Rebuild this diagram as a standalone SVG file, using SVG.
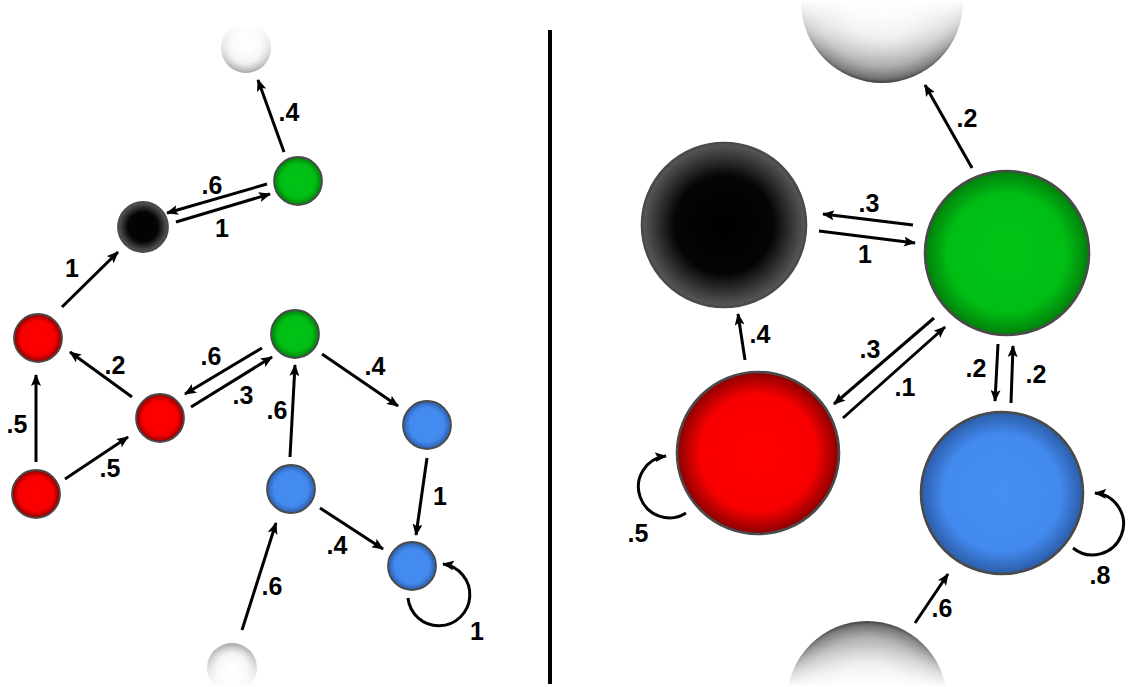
<svg xmlns="http://www.w3.org/2000/svg" width="1131" height="687" viewBox="0 0 1131 687">
  <defs>
    <style>
      .edge { fill: none; stroke: #000; stroke-width: 3; marker-end: url(#arrow); }
      .loop { fill: none; stroke: #000; stroke-width: 3; marker-end: url(#arrow); }
      .lbl { font-family: "Liberation Sans", Arial, sans-serif; font-weight: bold; font-size: 25px; fill: #000; text-anchor: middle; }
      .rim { stroke: #4a4a4a; stroke-width: 1.8; }
      .rimBig { stroke: #4a4a4a; stroke-width: 2.6; }
    </style>
    <marker id="arrow" viewBox="0 0 12 10" markerWidth="12" markerHeight="10" refX="11" refY="5" orient="auto" markerUnits="userSpaceOnUse">
      <path d="M0,0 L12,5 L0,10 L2.5,5 Z" fill="#000"/>
    </marker>
    <radialGradient id="gRed">
      <stop offset="0" stop-color="#ff0000"/>
      <stop offset="0.72" stop-color="#f80000"/>
      <stop offset="1" stop-color="#8a0000"/>
    </radialGradient>
    <radialGradient id="gGreen">
      <stop offset="0" stop-color="#00c416"/>
      <stop offset="0.72" stop-color="#00bd14"/>
      <stop offset="1" stop-color="#00800a"/>
    </radialGradient>
    <radialGradient id="gBlue">
      <stop offset="0" stop-color="#478ef2"/>
      <stop offset="0.72" stop-color="#438aef"/>
      <stop offset="1" stop-color="#2b5ca8"/>
    </radialGradient>
    <radialGradient id="gBlack">
      <stop offset="0" stop-color="#000"/>
      <stop offset="0.6" stop-color="#050505"/>
      <stop offset="1" stop-color="#5a5a5a"/>
    </radialGradient>
    <radialGradient id="gGhost">
      <stop offset="0" stop-color="#f4f4f4"/>
      <stop offset="0.45" stop-color="#d8d8d8"/>
      <stop offset="0.8" stop-color="#9a9a9a"/>
      <stop offset="0.95" stop-color="#666"/>
      <stop offset="1" stop-color="#3c3c3c"/>
    </radialGradient>
    <radialGradient id="gGhostSmall">
      <stop offset="0" stop-color="#ffffff"/>
      <stop offset="0.6" stop-color="#eeeeee"/>
      <stop offset="1" stop-color="#a4a4a4"/>
    </radialGradient>

    <!-- vertical fades for the partially shown end states -->
    <linearGradient id="fadeLT" gradientUnits="userSpaceOnUse" x1="0" y1="25" x2="0" y2="73">
      <stop offset="0" stop-color="#fff" stop-opacity="0"/>
      <stop offset="0.5" stop-color="#fff" stop-opacity="0.35"/>
      <stop offset="1" stop-color="#fff" stop-opacity="1"/>
    </linearGradient>
    <linearGradient id="fadeLB" gradientUnits="userSpaceOnUse" x1="0" y1="643" x2="0" y2="687">
      <stop offset="0" stop-color="#fff" stop-opacity="1"/>
      <stop offset="0.6" stop-color="#fff" stop-opacity="0.35"/>
      <stop offset="1" stop-color="#fff" stop-opacity="0"/>
    </linearGradient>
    <linearGradient id="fadeRT" gradientUnits="userSpaceOnUse" x1="0" y1="0" x2="0" y2="84">
      <stop offset="0" stop-color="#fff" stop-opacity="0"/>
      <stop offset="0.35" stop-color="#fff" stop-opacity="0.3"/>
      <stop offset="0.7" stop-color="#fff" stop-opacity="0.75"/>
      <stop offset="1" stop-color="#fff" stop-opacity="1"/>
    </linearGradient>
    <linearGradient id="fadeRB" gradientUnits="userSpaceOnUse" x1="0" y1="620" x2="0" y2="687">
      <stop offset="0" stop-color="#fff" stop-opacity="1"/>
      <stop offset="0.4" stop-color="#fff" stop-opacity="0.7"/>
      <stop offset="0.8" stop-color="#fff" stop-opacity="0.2"/>
      <stop offset="1" stop-color="#fff" stop-opacity="0"/>
    </linearGradient>
    <mask id="mLT" maskUnits="userSpaceOnUse" x="200" y="0" width="100" height="100">
      <rect x="200" y="0" width="100" height="100" fill="url(#fadeLT)"/>
    </mask>
    <mask id="mLB" maskUnits="userSpaceOnUse" x="190" y="620" width="100" height="67">
      <rect x="190" y="620" width="100" height="67" fill="url(#fadeLB)"/>
    </mask>
    <mask id="mRT" maskUnits="userSpaceOnUse" x="780" y="0" width="210" height="100">
      <rect x="780" y="0" width="210" height="100" fill="url(#fadeRT)"/>
    </mask>
    <mask id="mRB" maskUnits="userSpaceOnUse" x="770" y="600" width="200" height="87">
      <rect x="770" y="600" width="200" height="87" fill="url(#fadeRB)"/>
    </mask>
  </defs>

  <rect width="1131" height="687" fill="#fff"/>

  <!-- divider between the two chains -->
  <line x1="550" y1="30" x2="550" y2="684" stroke="#000" stroke-width="4"/>

  <!-- ===== left chain ===== -->
  <g id="left-nodes">
    <g id="L-ghost-top"><circle cx="246" cy="48" r="25" fill="url(#gGhostSmall)" mask="url(#mLT)"/></g>
    <g id="L-green-top"><circle cx="298" cy="181" r="24" fill="url(#gGreen)" class="rim"/></g>
    <g id="L-black"><circle cx="143" cy="227" r="25" fill="url(#gBlack)" class="rim"/></g>
    <g id="L-red-a"><circle cx="38" cy="338" r="24" fill="url(#gRed)" class="rim"/></g>
    <g id="L-red-b"><circle cx="160" cy="418" r="24" fill="url(#gRed)" class="rim"/></g>
    <g id="L-red-c"><circle cx="36" cy="494" r="24" fill="url(#gRed)" class="rim"/></g>
    <g id="L-green-mid"><circle cx="295" cy="334" r="24" fill="url(#gGreen)" class="rim"/></g>
    <g id="L-blue-a"><circle cx="291" cy="489" r="24" fill="url(#gBlue)" class="rim"/></g>
    <g id="L-blue-b"><circle cx="427" cy="425" r="24" fill="url(#gBlue)" class="rim"/></g>
    <g id="L-blue-c"><circle cx="412" cy="566" r="24" fill="url(#gBlue)" class="rim"/></g>
    <g id="L-ghost-bottom"><circle cx="232" cy="668" r="25" fill="url(#gGhostSmall)" mask="url(#mLB)"/></g>
  </g>

  <g id="left-connectors">
    <path class="edge" d="M284,152 L258,80"/>
    <path class="edge" d="M267,184 L167,213"/>
    <path class="edge" d="M176,222 L270,194"/>
    <path class="edge" d="M62,307 L118,252"/>
    <path class="edge" d="M36,462 L36,375"/>
    <path class="edge" d="M65,479 L128,437"/>
    <path class="edge" d="M132,397 L70,352"/>
    <path class="edge" d="M262,348 L185,394"/>
    <path class="edge" d="M191,407 L272,357"/>
    <path class="edge" d="M290,457 L295,365"/>
    <path class="edge" d="M322,354 L398,406"/>
    <path class="edge" d="M427,458 L416,535"/>
    <path class="edge" d="M320,508 L383,549"/>
    <path class="edge" d="M242,630 L276,523"/>
    <path class="loop" d="M408,598 A31,31 0 1 0 443,564"/>
  </g>

  <g id="left-labels">
    <text class="lbl" x="289" y="121">.4</text>
    <text class="lbl" x="212" y="194">.6</text>
    <text class="lbl" x="222" y="237">1</text>
    <text class="lbl" x="72" y="277">1</text>
    <text class="lbl" x="115" y="374">.2</text>
    <text class="lbl" x="211" y="365">.6</text>
    <text class="lbl" x="243" y="404">.3</text>
    <text class="lbl" x="17" y="433">.5</text>
    <text class="lbl" x="110" y="477">.5</text>
    <text class="lbl" x="277" y="419">.6</text>
    <text class="lbl" x="375" y="375">.4</text>
    <text class="lbl" x="440" y="505">1</text>
    <text class="lbl" x="337" y="554">.4</text>
    <text class="lbl" x="272" y="595">.6</text>
    <text class="lbl" x="477" y="640">1</text>
  </g>

  <!-- ===== right chain ===== -->
  <g id="right-nodes">
    <g id="R-ghost-top"><circle cx="882" cy="2" r="81" fill="url(#gGhost)" mask="url(#mRT)"/></g>
    <g id="R-black"><circle cx="724" cy="225" r="82" fill="url(#gBlack)" class="rimBig"/></g>
    <g id="R-green"><circle cx="1007" cy="253" r="82" fill="url(#gGreen)" class="rimBig"/></g>
    <g id="R-red"><circle cx="758" cy="453" r="81" fill="url(#gRed)" class="rimBig"/></g>
    <g id="R-blue"><circle cx="1002" cy="493" r="81" fill="url(#gBlue)" class="rimBig"/></g>
    <g id="R-ghost-bottom"><circle cx="867" cy="701" r="80" fill="url(#gGhost)" mask="url(#mRB)"/></g>
  </g>

  <g id="right-connectors">
    <path class="edge" d="M972,168 L925,85"/>
    <path class="edge" d="M913,225 L823,214"/>
    <path class="edge" d="M819,231 L915,243"/>
    <path class="edge" d="M745,360 L738,314"/>
    <path class="edge" d="M934,318 L834,404"/>
    <path class="edge" d="M843,418 L945,327"/>
    <path class="edge" d="M998,344 L995,401"/>
    <path class="edge" d="M1011,403 L1013,346"/>
    <path class="edge" d="M915,623 L948,574"/>
    <path class="loop" d="M686,513 A31,31 0 1 1 666,456"/>
    <path class="loop" d="M1073,548 A31,31 0 1 0 1095,493"/>
  </g>

  <g id="right-labels">
    <text class="lbl" x="967" y="127">.2</text>
    <text class="lbl" x="869" y="212">.3</text>
    <text class="lbl" x="865" y="263">1</text>
    <text class="lbl" x="760" y="343">.4</text>
    <text class="lbl" x="870" y="358">.3</text>
    <text class="lbl" x="905" y="396">.1</text>
    <text class="lbl" x="976" y="377">.2</text>
    <text class="lbl" x="1036" y="383">.2</text>
    <text class="lbl" x="942" y="617">.6</text>
    <text class="lbl" x="638" y="542">.5</text>
    <text class="lbl" x="1100" y="584">.8</text>
  </g>
</svg>
